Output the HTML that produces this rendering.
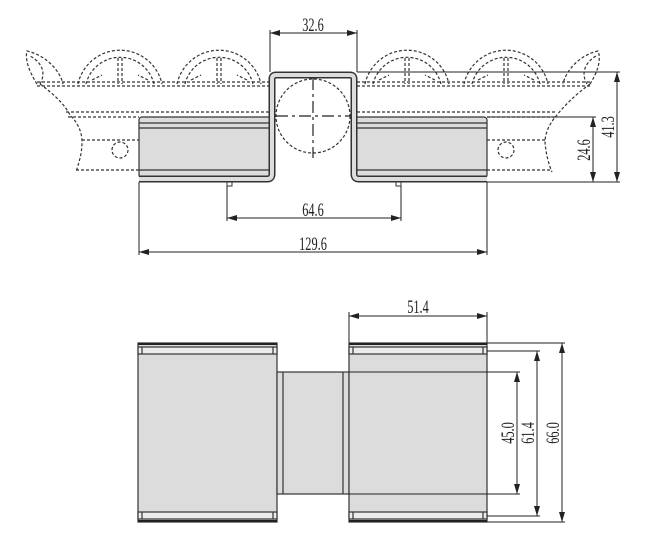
<!DOCTYPE html>
<html><head><meta charset="utf-8"><style>
html,body{margin:0;padding:0;background:#fff}
svg{display:block}
text{font-family:"Liberation Serif",serif;font-size:19px;fill:#222}
</style></head><body>
<svg width="667" height="537" viewBox="0 0 667 537" xmlns="http://www.w3.org/2000/svg">
<defs>
<marker id="a" viewBox="0 0 10 6" refX="10" refY="3" markerWidth="10" markerHeight="6" orient="auto-start-reverse" markerUnits="userSpaceOnUse"><path d="M0,0 L10,3 L0,6 z" fill="#222"/></marker>
</defs>
<g fill="none" stroke="#333" stroke-width="1.2" stroke-dasharray="3,2">
<path d="M37,82H270M37,86H270M357,82H590M357,86H590"/>
<path d="M66,112H270M68,117H139M357,112H556M487,117H556"/>
<path d="M82,140H139M487,140H545M76,170H139M487,170H552"/>
<g id="w">
<path d="M78,84 A43,43 0 0 1 162,84"/>
<path d="M86,84 A35,35 0 0 1 154,84"/>
<path d="M118,58V84M122,58V84M92,80L102,75M148,80L138,75"/>
</g>
<use href="#w" x="99"/>
<use href="#w" x="287"/>
<use href="#w" x="386"/>
<path d="M37,84 C28,70 25,58 27,51 C45,55 60,70 63,84"/>
<path d="M40,84 C48,70 38,60 30,56"/>
<path d="M40,84 C55,95 65,105 70,115 C80,125 82,135 82,142 C82,155 78,165 76,172"/>
<path d="M590,84 C599,70 601,58 598,51 C580,55 566,70 563,84"/>
<path d="M587,84 C579,70 589,60 596,56"/>
<path d="M590,84 C575,95 565,105 557,115 C548,125 545,135 545,142 C546,155 549,165 552,172"/>
<circle cx="120" cy="150" r="8"/>
<circle cx="506" cy="150" r="8"/>
<circle cx="313" cy="116" r="37"/>
</g>
<g stroke="#222" stroke-width="1.2" fill="none">
<path d="M276,116H350" stroke-dasharray="12,4,3,4"/>
<path d="M313,78V158" stroke-dasharray="12,4,3,4"/>
</g>
<g stroke="#333" stroke-width="1.2">
<rect x="139" y="117" width="133" height="61" rx="3" fill="#dcdcdc"/>
<rect x="354" y="117" width="133" height="61" rx="3" fill="#dcdcdc"/>
<path d="M139,123H272M139,128H272M139,170H272M354,123H487M354,128H487M354,170H487" fill="none"/>
</g>
<path d="M139,179H267Q272,179 272,174V79Q272,75 276,75H350Q354,75 354,79V174Q354,179 359,179H487" fill="none" stroke="#333" stroke-width="7"/>
<path d="M139,179H267Q272,179 272,174V79Q272,75 276,75H350Q354,75 354,79V174Q354,179 359,179H487" fill="none" stroke="#ddd" stroke-width="4"/>
<g stroke="#333" stroke-width="1" fill="none">
<rect x="227" y="182" width="5" height="4"/>
<rect x="396" y="182" width="5" height="4"/>
</g>
<g stroke="#222" stroke-width="1" fill="none">
<path d="M270,72V30M357,72V30"/>
<path d="M270,33H357" marker-start="url(#a)" marker-end="url(#a)"/>
<path d="M357,72H620M487,117H596M487,182H620"/>
<path d="M617,72V182" marker-start="url(#a)" marker-end="url(#a)"/>
<path d="M593,117V182" marker-start="url(#a)" marker-end="url(#a)"/>
<path d="M227,186V221M401,186V221"/>
<path d="M227,218H401" marker-start="url(#a)" marker-end="url(#a)"/>
<path d="M139,182V255M487,182V255"/>
<path d="M139,252H487" marker-start="url(#a)" marker-end="url(#a)"/>
</g>
<text transform="translate(313 31) scale(0.65 1)" text-anchor="middle">32.6</text>
<text transform="translate(313 216) scale(0.65 1)" text-anchor="middle">64.6</text>
<text transform="translate(313 250) scale(0.65 1)" text-anchor="middle">129.6</text>
<text transform="translate(614 127) rotate(-90) scale(0.65 1)" text-anchor="middle">41.3</text>
<text transform="translate(590 150) rotate(-90) scale(0.65 1)" text-anchor="middle">24.6</text>
<g stroke="#333" stroke-width="1.2">
<rect x="138" y="343" width="139" height="179" fill="#dcdcdc"/>
<rect x="277" y="372" width="72" height="122" fill="#dcdcdc"/>
<rect x="349" y="343" width="138" height="179" fill="#dcdcdc"/>
<g fill="#ececec">
<rect x="138" y="347" width="139" height="7"/>
<rect x="138" y="512" width="139" height="7"/>
<rect x="349" y="347" width="138" height="7"/>
<rect x="349" y="512" width="138" height="7"/>
</g>
<path d="M142,347V354M273,347V354M142,512V519M273,512V519M353,347V354M483,347V354M353,512V519M483,512V519M283,372V494M343,372V494" fill="none"/>
</g>
<path d="M138,344H277M349,344H487M138,521H277M349,521H487" stroke="#222" stroke-width="2"/>
<g stroke="#222" stroke-width="1" fill="none">
<path d="M349,343V312M487,343V312"/>
<path d="M349,316H487" marker-start="url(#a)" marker-end="url(#a)"/>
<path d="M349,372H520M349,494H520"/>
<path d="M517,372V494" marker-start="url(#a)" marker-end="url(#a)"/>
<path d="M487,351H540M487,516H540"/>
<path d="M537,351V516" marker-start="url(#a)" marker-end="url(#a)"/>
<path d="M487,343H565M487,522H565"/>
<path d="M562,343V522" marker-start="url(#a)" marker-end="url(#a)"/>
</g>
<text transform="translate(418 313) scale(0.65 1)" text-anchor="middle">51.4</text>
<text transform="translate(514 433) rotate(-90) scale(0.65 1)" text-anchor="middle">45.0</text>
<text transform="translate(534 433) rotate(-90) scale(0.65 1)" text-anchor="middle">61.4</text>
<text transform="translate(559 433) rotate(-90) scale(0.65 1)" text-anchor="middle">66.0</text>
</svg>
</body></html>
